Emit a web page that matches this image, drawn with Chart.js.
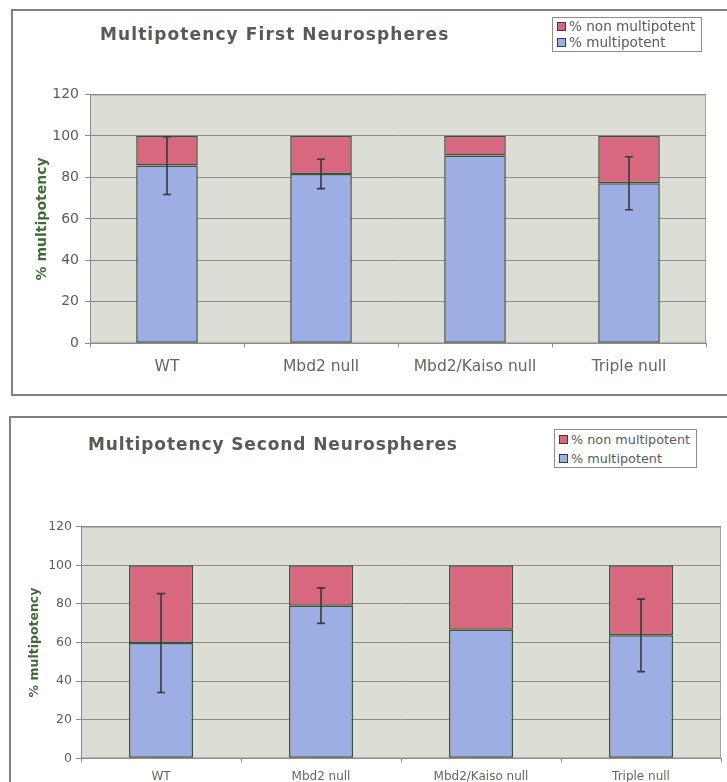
<!DOCTYPE html>
<html>
<head>
<meta charset="utf-8">
<title>Multipotency of neurospheres</title>
<script src="https://cdn.jsdelivr.net/npm/chart.js@4.4.1/dist/chart.umd.min.js"></script>
<style>
  html, body { margin: 0; padding: 0; background: #fff; width: 727px; height: 782px; overflow: hidden; }
  body { position: relative; font-family: "DejaVu Sans", Verdana, sans-serif; }
  .panel { position: absolute; border: 2px solid #808080; box-sizing: border-box; background: #fff; }
  #panel1 { left: 11px; top: 9px; width: 760px; height: 387px; }
  #panel2 { left: 9px; top: 416px; width: 760px; height: 420px; }
  .wrap { position: absolute; left: 0; width: 727px; }
  #wrap1 { top: 0; height: 400px; }
  #wrap2 { top: 400px; height: 382px; }
  .title { position: absolute; font-weight: bold; color: #555c52; white-space: nowrap; line-height: 1; }
  #title1 { left: 100px; top: 26px; font-size: 17px; letter-spacing: 1.1px; }
  #title2 { left: 88px; top: 436px; font-size: 17px; letter-spacing: 0.9px; }
  .legend { position: absolute; border: 1px solid #8c8c8c; background: #fff; color: #5a5a5a; box-sizing: border-box; white-space: nowrap; }
  .legend div { position: absolute; left: 4px; line-height: 1; }
  .legend span.sw { display: inline-block; width: 7px; height: 7px; border: 1px solid #3c3c3c; margin-right: 3px; vertical-align: 0px; }
  #legend1 { left: 552px; top: 17px; width: 150px; height: 35px; font-size: 13.6px; }
  #legend1 .r1 { top: 2px; } #legend1 .r2 { top: 18px; }
  #legend2 { left: 554px; top: 429px; width: 143px; height: 39px; font-size: 12.8px; }
  #legend2 .r1 { top: 4px; } #legend2 .r2 { top: 23px; }
</style>
</head>
<body>
<div class="panel" id="panel1"></div>
<div class="panel" id="panel2"></div>
<div class="wrap" id="wrap1"><canvas id="chart1" width="727" height="400"></canvas></div>
<div class="wrap" id="wrap2"><canvas id="chart2" width="727" height="382"></canvas></div>
<div class="title" id="title1">Multipotency First Neurospheres</div>
<div class="title" id="title2">Multipotency Second Neurospheres</div>
<div class="legend" id="legend1">
  <div class="r1"><span class="sw" style="background:#d8687f"></span>% non multipotent</div>
  <div class="r2"><span class="sw" style="background:#9caee4"></span>% multipotent</div>
</div>
<div class="legend" id="legend2">
  <div class="r1"><span class="sw" style="background:#d8687f"></span>% non multipotent</div>
  <div class="r2"><span class="sw" style="background:#9caee4"></span>% multipotent</div>
</div>
<script>
// Genotypes shown on the x axis
const categories = ['WT', 'Mbd2 null', 'Mbd2/Kaiso null', 'Triple null'];
const yTickValues = [0, 20, 40, 60, 80, 100, 120];

// First neurospheres (%)
const firstMultipotent = [85.7, 81.7, 90.6, 77.2];
const firstNonMultipotent = [14.3, 18.3, 9.4, 22.8];
const firstError = [13.9, 7.1, null, 12.8];

// Second neurospheres (%)
const secondMultipotent = [59.7, 79.1, 66.6, 63.7];
const secondNonMultipotent = [40.3, 20.9, 33.4, 36.3];
const secondError = [25.6, 9.2, null, 18.8];

const seriesLabels = ['% multipotent', '% non multipotent'];
const blue = '#9caee4';
const pink = '#d8687f';
const barEdge = '#3e5238';

// Grey plot-area background with a thin frame
const plotBackground = {
  id: 'plotBackground',
  beforeDraw(chart) {
    const { ctx, chartArea: a } = chart;
    ctx.save();
    ctx.fillStyle = '#dcddd5';
    ctx.fillRect(a.left, a.top, a.right - a.left, a.bottom - a.top);
    ctx.strokeStyle = '#a4a4a0';
    ctx.lineWidth = 1;
    ctx.strokeRect(a.left + 0.5, a.top + 0.5, a.right - a.left - 1, a.bottom - a.top - 1);
    ctx.restore();
  }
};

// Vertical error bars centred on the multipotent fraction of each bar
const errorBars = {
  id: 'errorBars',
  afterDatasetsDraw(chart, args, opts) {
    const meta = chart.getDatasetMeta(0);
    const y = chart.scales.y;
    const ctx = chart.ctx;
    const vals = chart.data.datasets[0].data;
    ctx.save();
    ctx.strokeStyle = '#3a3a3a';
    ctx.lineWidth = 1.6;
    opts.errors.forEach((e, i) => {
      if (e == null) return;
      const x = meta.data[i].x;
      const top = y.getPixelForValue(vals[i] + e);
      const bot = y.getPixelForValue(vals[i] - e);
      const cap = 4;
      ctx.beginPath();
      ctx.moveTo(x, top); ctx.lineTo(x, bot);
      ctx.moveTo(x - cap, top); ctx.lineTo(x + cap, top);
      ctx.moveTo(x - cap, bot); ctx.lineTo(x + cap, bot);
      ctx.stroke();
    });
    ctx.restore();
  }
};

function makeChart(id, multi, nonMulti, errors, cfg) {
  return new Chart(document.getElementById(id), {
    type: 'bar',
    data: {
      labels: categories,
      datasets: [
        { label: seriesLabels[0], data: multi, backgroundColor: blue, borderColor: barEdge, borderWidth: 1.5, borderSkipped: false },
        { label: seriesLabels[1], data: nonMulti, backgroundColor: pink, borderColor: barEdge, borderWidth: 1.5, borderSkipped: false }
      ]
    },
    options: {
      responsive: false,
      animation: false,
      events: [],
      layout: { padding: cfg.padding },
      datasets: { bar: { categoryPercentage: 1, barPercentage: 0.4 } },
      plugins: {
        legend: { display: false },
        title: { display: false },
        tooltip: { enabled: false },
        errorBars: { errors: errors }
      },
      scales: {
        x: {
          stacked: true,
          offset: true,
          grid: { display: true, drawOnChartArea: false, drawTicks: true, tickLength: 4, color: '#8b8b8b', offset: true },
          border: { display: true, color: '#8b8b8b', width: 1 },
          ticks: { color: '#5f6a5a', font: { family: 'DejaVu Sans', size: cfg.xFont }, padding: cfg.xPad, maxRotation: 0, autoSkip: false },
          afterFit(scale) { scale.height = cfg.xHeight; }
        },
        y: {
          stacked: true,
          min: 0,
          max: 120,
          afterBuildTicks(scale) { scale.ticks = yTickValues.map(v => ({ value: v })); },
          grid: { color: '#8b8b8b', lineWidth: 1, drawTicks: true, tickLength: 5 },
          border: { display: true, color: '#8b8b8b', width: 1 },
          ticks: { color: '#5c5c5c', font: { family: 'DejaVu Sans', size: cfg.yFont }, padding: cfg.yPad },
          title: {
            display: true,
            text: '% multipotency',
            color: '#3f6b36',
            font: { family: 'DejaVu Sans', size: cfg.yTitleFont, weight: 'bold' },
            padding: { top: cfg.yTitlePad, bottom: 0 }
          },
          afterFit(scale) { scale.width = cfg.yWidth; }
        }
      }
    },
    plugins: [plotBackground, errorBars]
  });
}

makeChart('chart1', firstMultipotent, firstNonMultipotent, firstError, {
  padding: { top: 94.5, right: 21, bottom: 16.7, left: 0 },
  yWidth: 90, xHeight: 40,
  xFont: 15.5, xPad: 10, yFont: 14, yPad: 6, yTitleFont: 14, yTitlePad: 34
});

makeChart('chart2', secondMultipotent, secondNonMultipotent, secondError, {
  padding: { top: 126.7, right: 6, bottom: 0, left: 0 },
  yWidth: 81, xHeight: 23.7,
  xFont: 12, xPad: 7, yFont: 12.5, yPad: 4, yTitleFont: 12.5, yTitlePad: 27
});
</script>
</body>
</html>
